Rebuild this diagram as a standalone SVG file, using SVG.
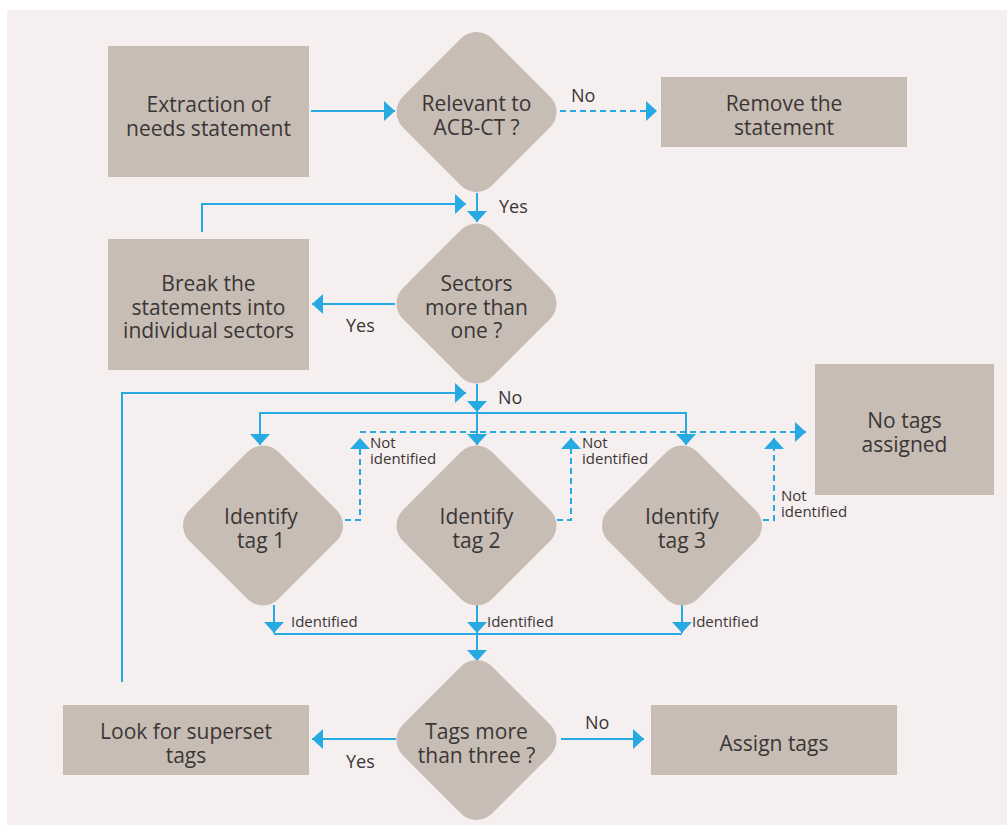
<svg xmlns="http://www.w3.org/2000/svg" width="1007" height="826" viewBox="0 0 1007 826">
  <style>
    .box { fill: #c7bdb4; }
    .t { font-family: "Open Sans", "Liberation Sans", sans-serif; font-size: 21px; fill: #3b3636; text-anchor: middle; }
    .lbl { font-family: "Open Sans", "Liberation Sans", sans-serif; font-size: 18px; fill: #3b3636; }
    .sm { font-family: "Open Sans", "Liberation Sans", sans-serif; font-size: 15px; fill: #3b3636; }
    .ln { fill: none; stroke: #27a9e1; stroke-width: 2; }
    .dash { stroke-dasharray: 6 4; }
  </style>
  <defs>
    <marker id="arrow" markerUnits="userSpaceOnUse" viewBox="0 0 11 20" refX="11" refY="10" markerWidth="11" markerHeight="20" orient="auto">
      <path d="M0,0 L11,10 L0,20 Z" fill="#27a9e1"/>
    </marker>
  </defs>

  <rect x="0" y="0" width="1007" height="826" fill="#ffffff"/>
  <rect x="7" y="10" width="1000" height="815" fill="#f5efef"/>

  <!-- connectors -->
  <g id="connectors">
    <path class="ln" d="M311,111 H395" marker-end="url(#arrow)"/>
    <path class="ln dash" d="M560,111 H657" marker-end="url(#arrow)"/>
    <path class="ln" d="M477,193 V222" marker-end="url(#arrow)"/>
    <path class="ln" d="M202,232 V204 H466" marker-end="url(#arrow)"/>
    <path class="ln" d="M395,304 H312" marker-end="url(#arrow)"/>
    <path class="ln" d="M477,384 V412" marker-end="url(#arrow)"/>
    <path class="ln" d="M122,682 V393 H466" marker-end="url(#arrow)"/>
    <path class="ln" d="M477,413 H260 V445" marker-end="url(#arrow)"/>
    <path class="ln" d="M477,413 H686 V445" marker-end="url(#arrow)"/>
    <path class="ln" d="M477,413 V445" marker-end="url(#arrow)"/>
    <path class="ln dash" d="M345,520 H360 V438" marker-end="url(#arrow)"/>
    <path class="ln dash" d="M557,520 H571 V438" marker-end="url(#arrow)"/>
    <path class="ln dash" d="M763,520 H774 V438" marker-end="url(#arrow)"/>
    <path class="ln dash" d="M360,432 H806" marker-end="url(#arrow)"/>
    <path class="ln" d="M274,605 V633" marker-end="url(#arrow)"/>
    <path class="ln" d="M477,605 V633" marker-end="url(#arrow)"/>
    <path class="ln" d="M682,605 V633" marker-end="url(#arrow)"/>
    <path class="ln" d="M274,634 H682"/>
    <path class="ln" d="M477,634 V661" marker-end="url(#arrow)"/>
    <path class="ln" d="M396,739 H312" marker-end="url(#arrow)"/>
    <path class="ln" d="M561,739 H644" marker-end="url(#arrow)"/>

    <text class="lbl" x="571" y="102">No</text>
    <text class="lbl" x="499" y="213">Yes</text>
    <text class="lbl" x="346" y="332">Yes</text>
    <text class="lbl" x="498" y="404">No</text>
    <text class="sm" x="370" y="448">Not<tspan x="370" dy="16">identified</tspan></text>
    <text class="sm" x="582" y="448">Not<tspan x="582" dy="16">identified</tspan></text>
    <text class="sm" x="781" y="501">Not<tspan x="781" dy="16">identified</tspan></text>
    <text class="sm" x="291" y="627">Identified</text>
    <text class="sm" x="487" y="627">Identified</text>
    <text class="sm" x="692" y="627">Identified</text>
    <text class="lbl" x="346" y="768">Yes</text>
    <text class="lbl" x="585" y="729">No</text>
  </g>

  <!-- process boxes -->
  <g id="extraction">
    <rect class="box" x="108" y="46" width="201" height="131"/>
    <text class="t" x="208.5" y="112">Extraction of</text>
    <text class="t" x="208.5" y="135.5">needs statement</text>
  </g>
  <g id="remove">
    <rect class="box" x="661" y="77" width="246" height="70"/>
    <text class="t" x="784" y="111">Remove the</text>
    <text class="t" x="784" y="134.5">statement</text>
  </g>
  <g id="break">
    <rect class="box" x="108" y="239" width="201" height="131"/>
    <text class="t" x="208.5" y="291">Break the</text>
    <text class="t" x="208.5" y="314.5">statements into</text>
    <text class="t" x="208.5" y="338">individual sectors</text>
  </g>
  <g id="no-tags">
    <rect class="box" x="815" y="364" width="179" height="131"/>
    <text class="t" x="904.5" y="428">No tags</text>
    <text class="t" x="904.5" y="451.5">assigned</text>
  </g>
  <g id="superset">
    <rect class="box" x="63" y="705" width="246" height="70"/>
    <text class="t" x="186" y="739">Look for superset</text>
    <text class="t" x="186" y="762.5">tags</text>
  </g>
  <g id="assign">
    <rect class="box" x="651" y="705" width="246" height="70"/>
    <text class="t" x="774" y="751">Assign tags</text>
  </g>

  <!-- decisions -->
  <g id="relevant">
    <rect class="box" x="-63" y="-63" width="126" height="126" rx="22" transform="translate(476.5,112) rotate(45)"/>
    <text class="t" x="476.5" y="111">Relevant to</text>
    <text class="t" x="476.5" y="134.5">ACB-CT ?</text>
  </g>
  <g id="sectors">
    <rect class="box" x="-63" y="-63" width="126" height="126" rx="22" transform="translate(476.5,303.5) rotate(45)"/>
    <text class="t" x="476.5" y="291">Sectors</text>
    <text class="t" x="476.5" y="314.5">more than</text>
    <text class="t" x="476.5" y="338">one ?</text>
  </g>
  <g id="tag1">
    <rect class="box" x="-63" y="-63" width="126" height="126" rx="22" transform="translate(263,525.5) rotate(45)"/>
    <text class="t" x="261" y="524">Identify</text>
    <text class="t" x="261" y="547.5">tag 1</text>
  </g>
  <g id="tag2">
    <rect class="box" x="-63" y="-63" width="126" height="126" rx="22" transform="translate(476.5,525.5) rotate(45)"/>
    <text class="t" x="476.5" y="524">Identify</text>
    <text class="t" x="476.5" y="547.5">tag 2</text>
  </g>
  <g id="tag3">
    <rect class="box" x="-63" y="-63" width="126" height="126" rx="22" transform="translate(682,525.5) rotate(45)"/>
    <text class="t" x="682" y="524">Identify</text>
    <text class="t" x="682" y="547.5">tag 3</text>
  </g>
  <g id="tags-more">
    <rect class="box" x="-63" y="-63" width="126" height="126" rx="22" transform="translate(476.5,740) rotate(45)"/>
    <text class="t" x="476.5" y="739">Tags more</text>
    <text class="t" x="476.5" y="762.5">than three ?</text>
  </g>
</svg>
